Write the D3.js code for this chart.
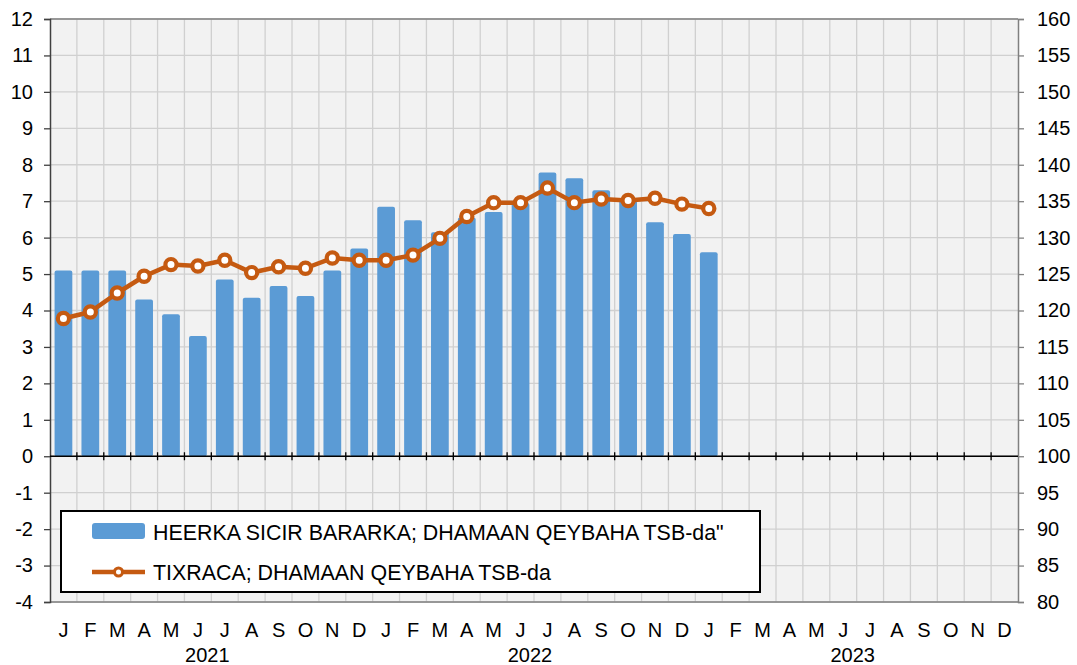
<!DOCTYPE html>
<html>
<head>
<meta charset="utf-8">
<script src="https://cdn.jsdelivr.net/npm/d3@7"></script>
<style>
html,body{margin:0;padding:0;background:#fff;}
svg{display:block;font-family:"Liberation Sans",Arial,sans-serif;}
</style>
</head>
<body>
<svg id="chart" width="1077" height="665"></svg>
<script>
const monthLabels = ["J","F","M","A","M","J","J","A","S","O","N","D"];
const years = ["2021","2022","2023"];
const barValues = [5.1,5.1,5.1,4.3,3.9,3.3,4.85,4.35,4.67,4.4,5.1,5.7,
                   6.85,6.48,6.15,6.55,6.7,6.95,7.79,7.63,7.3,7.05,6.42,6.1,5.6];
const lineValues = [118.9,119.8,122.4,124.7,126.3,126.1,126.9,125.2,126.0,125.8,127.2,126.9,
                    126.9,127.6,129.9,132.9,134.8,134.8,136.8,134.8,135.3,135.1,135.4,134.6,134.0];
const leftTicks = d3.range(-4,13,1);
const rightTicks = d3.range(80,161,5);
const legendLabels = ["HEERKA SICIR BARARKA; DHAMAAN QEYBAHA TSB-da\"","TIXRACA; DHAMAAN QEYBAHA TSB-da"];

const svg = d3.select("#chart");
const L = 50, R = 1018, T = 19, B = 602;
const months = d3.range(years.length*12);
const x = d3.scaleBand().domain(months).range([L,R]).padding(0);
const yL = d3.scaleLinear().domain([-4,12]).range([B,T]);
const yR = d3.scaleLinear().domain([80,160]).range([B,T]);
const blue = "#5b9bd5", orange = "#c55a11";
const FS = 20;

// background
svg.append("rect").attr("x",L).attr("y",T).attr("width",R-L).attr("height",B-T).attr("fill","#f2f2f2");

// grid
const g = svg.append("g");
g.selectAll(".hg").data(leftTicks).join("line")
  .attr("x1",L).attr("x2",R).attr("y1",d=>yL(d)).attr("y2",d=>yL(d))
  .attr("stroke","#d0d0d0").attr("stroke-width",1.3);
g.selectAll(".vg").data(d3.range(1,months.length)).join("line")
  .attr("x1",d=>x(d)).attr("x2",d=>x(d)).attr("y1",T).attr("y2",B)
  .attr("stroke","#d0d0d0").attr("stroke-width",1.3);

// frame
svg.append("line").attr("x1",L).attr("x2",R).attr("y1",T).attr("y2",T).attr("stroke","#808080").attr("stroke-width",1.5);
svg.append("line").attr("x1",L).attr("x2",R).attr("y1",B).attr("y2",B).attr("stroke","#808080").attr("stroke-width",1.5);

// bars
svg.append("g").selectAll("rect").data(barValues).join("rect")
  .attr("x",(d,i)=>x(i)+x.bandwidth()*0.17)
  .attr("width",x.bandwidth()*0.66)
  .attr("y",d=>yL(d))
  .attr("height",d=>yL(0)-yL(d))
  .attr("rx",2)
  .attr("fill",blue);

// left axis
const axL = svg.append("g").attr("transform",`translate(${L},0)`)
  .call(d3.axisLeft(yL).tickValues(leftTicks).tickSize(6).tickPadding(11).tickFormat(d=>String(d)));
axL.select(".domain").attr("stroke","#404040").attr("stroke-width",1.5);
axL.selectAll(".tick line").attr("stroke","#404040").attr("stroke-width",1.3);
axL.selectAll("text").attr("font-size",FS).attr("fill","#000").attr("font-family","Liberation Sans, Arial, sans-serif");

// right axis
const axR = svg.append("g").attr("transform",`translate(${R},0)`)
  .call(d3.axisRight(yR).tickValues(rightTicks).tickSize(6).tickPadding(13).tickFormat(d=>String(d)));
axR.select(".domain").attr("stroke","#808080").attr("stroke-width",1.5);
axR.selectAll(".tick line").attr("stroke","#808080").attr("stroke-width",1.3);
axR.selectAll("text").attr("font-size",FS).attr("fill","#000").attr("font-family","Liberation Sans, Arial, sans-serif");

// zero axis with ticks at month boundaries
svg.append("line").attr("x1",L).attr("x2",R).attr("y1",yL(0)).attr("y2",yL(0)).attr("stroke","#000").attr("stroke-width",1.5);
svg.append("g").selectAll("line").data(d3.range(1,months.length)).join("line")
  .attr("x1",d=>x(d)).attr("x2",d=>x(d)).attr("y1",yL(0)-4).attr("y2",yL(0)+4)
  .attr("stroke","#000").attr("stroke-width",1.3);

// month labels
svg.append("g").selectAll("text").data(months).join("text")
  .attr("x",d=>x(d)+x.bandwidth()/2).attr("y",637)
  .attr("text-anchor","middle").attr("font-size",FS).attr("fill","#000")
  .text(d=>monthLabels[d%12]);
svg.append("g").selectAll("text").data(years).join("text")
  .attr("x",(d,i)=>x(i*12+6)-4).attr("y",662)
  .attr("text-anchor","middle").attr("font-size",FS).attr("fill","#000")
  .text(d=>d);

// line
const line = d3.line().x((d,i)=>x(i)+x.bandwidth()/2).y(d=>yR(d));
svg.append("path").datum(lineValues).attr("d",line)
  .attr("fill","none").attr("stroke",orange).attr("stroke-width",4.5).attr("stroke-linejoin","round");
svg.append("g").selectAll("circle").data(lineValues).join("circle")
  .attr("cx",(d,i)=>x(i)+x.bandwidth()/2).attr("cy",d=>yR(d)).attr("r",5.6)
  .attr("fill","#fff").attr("stroke",orange).attr("stroke-width",4.2);

// legend
const lg = svg.append("g");
lg.append("rect").attr("x",61).attr("y",511).attr("width",699).attr("height",81)
  .attr("fill","#fff").attr("stroke","#000").attr("stroke-width",2);
lg.append("rect").attr("x",92).attr("y",523).attr("width",53).attr("height",16).attr("rx",3).attr("fill",blue);
lg.append("line").attr("x1",92).attr("x2",145).attr("y1",572).attr("y2",572).attr("stroke",orange).attr("stroke-width",4.5);
lg.append("circle").attr("cx",118.5).attr("cy",572).attr("r",4).attr("fill","#fff").attr("stroke",orange).attr("stroke-width",3);
lg.selectAll("text").data(legendLabels).join("text")
  .attr("x",153).attr("y",(d,i)=>i===0?540:580)
  .attr("font-size",21.4).attr("fill","#000")
  .text(d=>d);
</script>
</body>
</html>
